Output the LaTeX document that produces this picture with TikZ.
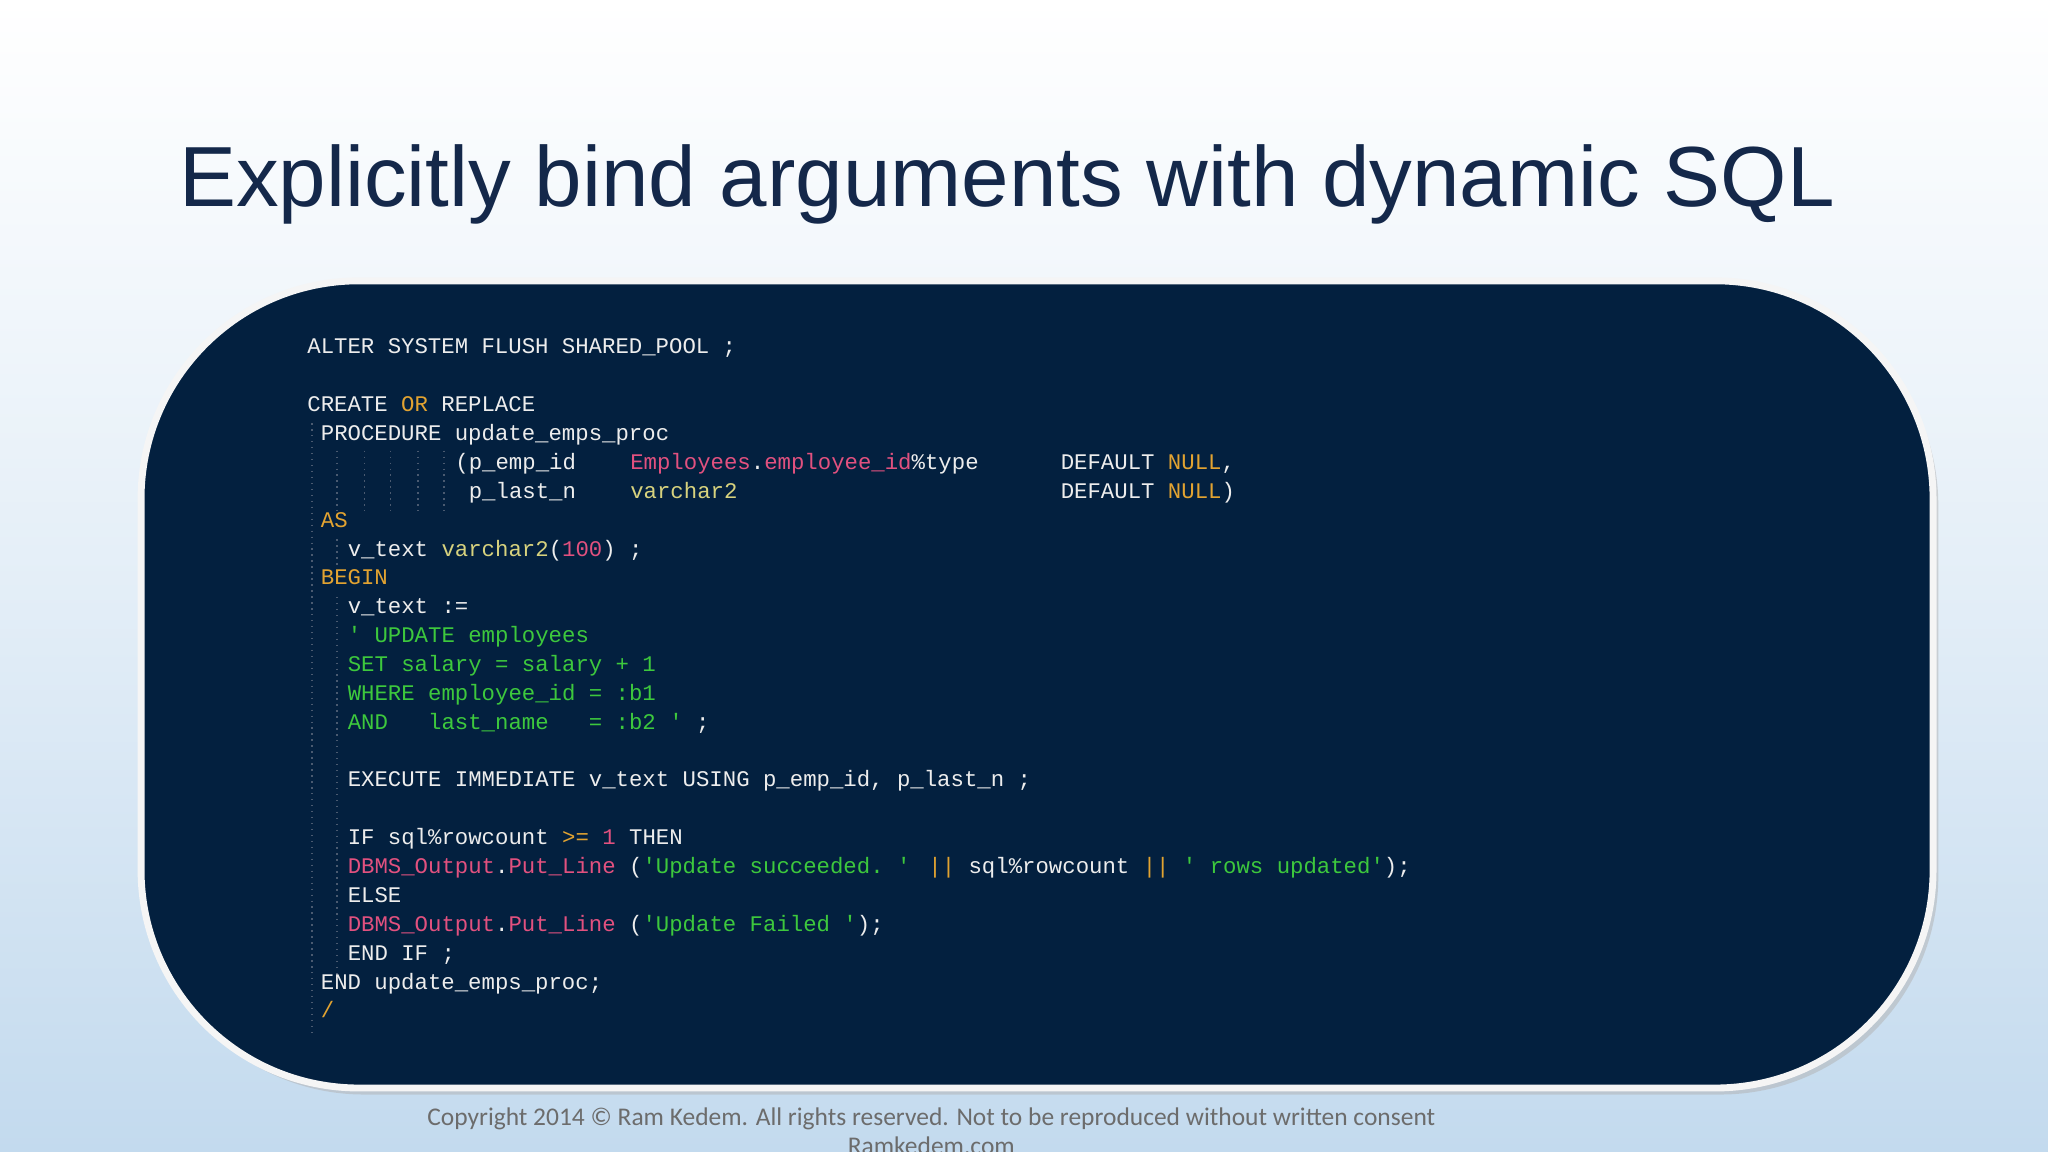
\documentclass[tikz,border=0pt]{standalone}
\usepackage{fontspec}
\setmainfont{Liberation Sans}
\newfontfamily\codefont{Liberation Mono}
\newfontfamily\footfont{Carlito}
\usetikzlibrary{shadows}
\definecolor{bgblue}{HTML}{C3DAEE}
\definecolor{titlecol}{HTML}{14284A}
\definecolor{boxcol}{HTML}{03203F}
\definecolor{codewhite}{HTML}{EDEDED}
\definecolor{kwcol}{HTML}{E2A331}
\definecolor{pkcol}{HTML}{E2517F}
\definecolor{ylcol}{HTML}{D7D27E}
\definecolor{grcol}{HTML}{3DC83D}
\definecolor{guidecol}{HTML}{4A5A70}
\newcommand\cK[1]{\textcolor{kwcol}{#1}}
\newcommand\cP[1]{\textcolor{pkcol}{#1}}
\newcommand\cY[1]{\textcolor{ylcol}{#1}}
\newcommand\cG[1]{\textcolor{grcol}{#1}}
\newcommand\sq{\char"27\relax}
\tikzset{
  codeline/.style={anchor=base west,inner sep=0pt,text=codewhite,font=\codefont\fontsize{9.73pt}{11pt}\selectfont},
  guide/.style={draw=guidecol,dotted,line width=0.6pt}
}
\begin{document}
\begin{tikzpicture}[x=0.02cm,y=-0.02cm]
\useasboundingbox (0,0) rectangle (1568,882);
\begin{scope}
\clip (0,0) rectangle (1568,882);
\shade[top color=white,bottom color=white!55!bgblue] (0,0) rectangle (1568,441);
\shade[top color=white!55!bgblue,bottom color=bgblue] (0,441) rectangle (1568,882);
\node[font=\fontsize{37.2pt}{44pt}\selectfont,text=titlecol,anchor=base] (title) at (771,158) {Explicitly bind arguments with dynamic SQL};
% code box
\fill[gray!60,opacity=0.5,rounded corners=95] (112,220) rectangle (1484,838);
\node[draw=white!92!gray,line width=3pt,fill=boxcol,rounded corners=95,minimum width=1372*0.02cm,minimum height=618*0.02cm,inner sep=0pt] (box) at (794,524) {};
% guides
\draw[guide] (239,324) -- (239,792);
\foreach \gx in {258,279,299,320,340} \draw[guide] (\gx,345) -- (\gx,391);
\draw[guide] (258,413) -- (258,433);
\draw[guide] (258,457) -- (258,745);
\newcommand\codeat[3]{\node[codeline] at ({235+10.3*#1},{271+22.1*#2}) {#3};}
\codeat{0}{0}{ALTER SYSTEM FLUSH SHARED\_POOL ;}
\codeat{0}{2}{CREATE \cK{OR} REPLACE}
\codeat{1}{3}{PROCEDURE update\_emps\_proc}
\codeat{11}{4}{(p\_emp\_id}
\codeat{24}{4}{\cP{Employees}.\cP{employee\_id}\%type}
\codeat{56}{4}{DEFAULT \cK{NULL},}
\codeat{12}{5}{p\_last\_n}
\codeat{24}{5}{\cY{varchar2}}
\codeat{56}{5}{DEFAULT \cK{NULL})}
\codeat{1}{6}{\cK{AS}}
\codeat{3}{7}{v\_text \cY{varchar2}(\cP{100}) ;}
\codeat{1}{8}{\cK{BEGIN}}
\codeat{3}{9}{v\_text :=}
\codeat{3}{10}{\cG{\sq{} UPDATE employees}}
\codeat{3}{11}{\cG{SET salary = salary + 1}}
\codeat{3}{12}{\cG{WHERE employee\_id = :b1}}
\codeat{3}{13}{\cG{AND~~~last\_name~~~=~:b2~\sq}~;}
\codeat{3}{15}{EXECUTE IMMEDIATE v\_text USING p\_emp\_id, p\_last\_n ;}
\codeat{3}{17}{IF sql\%rowcount \cK{>=} \cP{1} THEN}
\codeat{3}{18}{\cP{DBMS\_Output}.\cP{Put\_Line} (\cG{\sq Update succeeded.~\sq} \cK{||} sql\%rowcount \cK{||} \cG{\sq{} rows updated\sq});}
\codeat{3}{19}{ELSE}
\codeat{3}{20}{\cP{DBMS\_Output}.\cP{Put\_Line} (\cG{\sq Update Failed~\sq});}
\codeat{3}{21}{END IF ;}
\codeat{1}{22}{END update\_emps\_proc;}
\codeat{1}{23}{\cK{/}}
% footer
\node[font=\footfont\fontsize{11.1pt}{13pt}\selectfont,text=gray!85!black,anchor=base] (copy) at (713,862) {Copyright 2014 © Ram Kedem. All rights reserved. Not to be reproduced without written consent};
\node[font=\footfont\fontsize{11.1pt}{13pt}\selectfont,text=gray!85!black,anchor=base] (site) at (713,884) {Ramkedem.com};
\end{scope}
\end{tikzpicture}
\end{document}
